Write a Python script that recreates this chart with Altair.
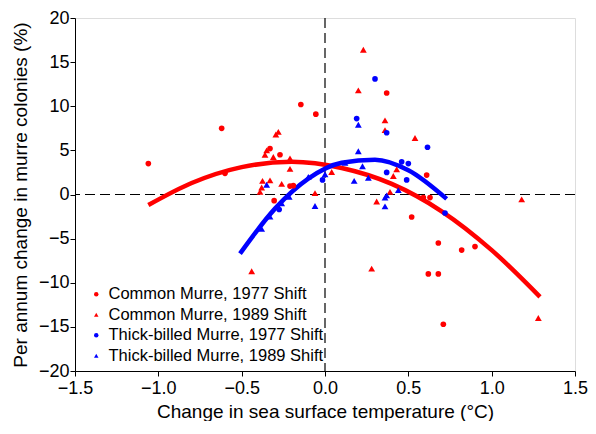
import altair as alt
import pandas as pd

# ---- data ----
cm77_x = [-1.06, -0.62, -0.145, -0.055, -0.33, -0.27, -0.60, -0.21, -0.19, -0.305,
          0.37, 0.61, 0.59, 0.63, 0.52, 0.68, 0.82, 0.90, 0.62, 0.68, 0.71]
cm77_y = [3.5, 7.5, 10.2, 9.1, 5.2, 4.5, 2.4, 0.95, 1.0, -0.7,
          11.5, 2.2, -0.35, -0.35, -2.55, -5.5, -6.3, -5.9, -9.0, -9.0, -14.7]

cm89_x = [-0.295, -0.28, -0.36, -0.35, -0.31, -0.21, -0.21, -0.375, -0.33, -0.26,
          -0.38, -0.39, -0.06, -0.44, 0.28, 0.23, 0.20, 0.36, 0.36, 0.54,
          0.04, 0.41, 0.43, 0.39, 0.31, 1.18, 1.28]
cm89_y = [6.8, 7.1, 4.5, 5.0, 4.25, 4.1, 2.9, 1.55, 1.6, 1.2,
          0.8, 0.3, 0.15, -8.7, -8.4, 16.4, 11.8, 8.4, 7.3, 6.4,
          2.55, 2.1, 2.85, 0.3, -0.8, -0.55, -14.0]

tb77_x = [-0.015, -0.275, 0.30, 0.19, 0.37, 0.615, 0.46, 0.50, 0.37, 0.49, 0.72]
tb77_y = [1.65, -1.7, 13.1, 8.6, 7.0, 5.35, 3.7, 3.5, 2.5, 1.65, -2.1]

tb89_x = [-0.35, -0.06, -0.38, -0.33, -0.26, -0.215, -0.10, 0.20, 0.20, 0.225,
          0.175, 0.36, 0.37, 0.36, 0.0, 0.12, 0.26, 0.44]
tb89_y = [1.1, -1.3, -3.9, -2.5, -1.0, -0.25, 2.0, 7.9, 4.9, 3.2,
          1.55, -0.35, -0.1, -1.35, 2.3, 3.6, 1.9, 0.5]

red_curve_x = [-1.06, -0.8, -0.5, -0.2, 0.1, 0.4, 0.7, 1.0, 1.29]
red_curve_y = [-1.2, 1.3, 3.1, 3.7, 3.0, 1.2, -1.9, -6.3, -11.6]
blue_curve_x = [-0.51, -0.3, -0.1, 0.1, 0.3, 0.5, 0.73]
blue_curve_y = [-6.7, -1.6, 1.8, 3.6, 3.95, 2.75, -0.5]

series_names = ["Common Murre, 1977 Shift", "Common Murre, 1989 Shift",
                "Thick-billed Murre, 1977 Shift", "Thick-billed Murre, 1989 Shift"]
series_colors = ["#ff0000", "#ff0000", "#0000ff", "#0000ff"]
series_shapes = ["circle", "triangle-up", "circle", "triangle-up"]

x_ticks = [-1.5, -1.0, -0.5, 0.0, 0.5, 1.0, 1.5]
y_ticks = [-20, -15, -10, -5, 0, 5, 10, 15, 20]

# ---- tables ----
rows = []
for name, xs, ys in zip(series_names, [cm77_x, cm89_x, tb77_x, tb89_x],
                        [cm77_y, cm89_y, tb77_y, tb89_y]):
    for a, b in zip(xs, ys):
        rows.append({"x": a, "y": b, "series": name})
pts = pd.DataFrame(rows)
red_df = pd.DataFrame({"x": red_curve_x, "y": red_curve_y})
blue_df = pd.DataFrame({"x": blue_curve_x, "y": blue_curve_y})

FONT = "Liberation Sans"
xscale = alt.Scale(domain=[-1.5, 1.5], nice=False, zero=False)
yscale = alt.Scale(domain=[-20, 20], nice=False, zero=False)

xaxis = alt.Axis(values=x_ticks, format=".1f", title="Change in sea surface temperature (°C)",
                 grid=False, tickSize=5, labelPadding=3, titlePadding=5,
                 labelFontSize=18, titleFontSize=19, labelFont=FONT, titleFont=FONT,
                 titleFontWeight="normal", labelColor="black", titleColor="black",
                 domainColor="black", tickColor="black", labelFlush=False)
yaxis = alt.Axis(values=y_ticks, format="d", title="Per annum change in murre colonies (%)",
                 grid=False, tickSize=5, labelPadding=1, titlePadding=8,
                 labelFontSize=18, titleFontSize=19, labelFont=FONT, titleFont=FONT,
                 titleFontWeight="normal", labelColor="black", titleColor="black",
                 domainColor="black", tickColor="black", labelFlush=False)

base_x = alt.X("x:Q", scale=xscale, axis=xaxis)
base_y = alt.Y("y:Q", scale=yscale, axis=yaxis)

hrule = alt.Chart(pd.DataFrame({"y": [0]})).mark_rule(
    color="black", strokeWidth=1.2, strokeDash=[10, 5]).encode(y=alt.Y("y:Q", scale=yscale, axis=yaxis))
vrule = alt.Chart(pd.DataFrame({"x": [0]})).mark_rule(
    color="black", strokeWidth=1.2, strokeDash=[10, 5]).encode(x=alt.X("x:Q", scale=xscale, axis=xaxis))

red_line = alt.Chart(red_df).mark_line(color="#ff0000", strokeWidth=4.5, interpolate="monotone").encode(
    x=base_x, y=base_y)
blue_line = alt.Chart(blue_df).mark_line(color="#0000ff", strokeWidth=4.5, interpolate="monotone").encode(
    x=base_x, y=base_y)

legend = alt.Legend(orient="none", legendX=13, legendY=268, title=None,
                    labelFont=FONT, labelFontSize=16.5, labelColor="black", labelLimit=0,
                    symbolSize=20, rowPadding=3.5, labelOffset=4, padding=0,
                    symbolStrokeWidth=0)

triangle_series = [n for n, s in zip(series_names, series_shapes) if s == "triangle-up"]

points = alt.Chart(pts).mark_point(filled=True, opacity=1).encode(
    x=base_x, y=base_y,
    color=alt.Color("series:N", scale=alt.Scale(domain=series_names, range=series_colors),
                    legend=legend),
    shape=alt.Shape("series:N", scale=alt.Scale(domain=series_names, range=series_shapes),
                    legend=legend),
    size=alt.condition(alt.FieldOneOfPredicate(field="series", oneOf=triangle_series),
                       alt.value(46), alt.value(32)),
)

chart = alt.layer(hrule, vrule, red_line, blue_line, points).properties(
    width=500, height=353,
    autosize=alt.AutoSizeParams(type="none"),
    padding={"left": 67, "top": 10, "right": 13, "bottom": 50},
    background="white",
).configure_view(stroke="black", strokeWidth=1).configure(font=FONT)

chart.save("out.html", embed_options={"renderer": "svg", "actions": False})
